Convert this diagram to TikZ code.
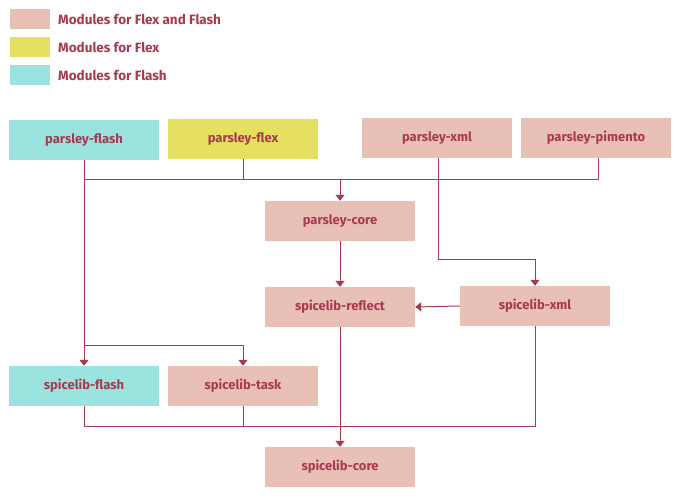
\documentclass[tikz,border=0pt]{standalone}
\usepackage{fontspec}
\setmainfont{Fira Sans}
\usetikzlibrary{arrows.meta}
\definecolor{pinkc}{HTML}{E9C0B6}
\definecolor{yellowc}{HTML}{E6E060}
\definecolor{cyanc}{HTML}{9AE3DE}
\definecolor{redc}{HTML}{A83A50}
\begin{document}
\begin{tikzpicture}[x=1pt,y=-1pt,
  mod/.style={minimum width=150pt,minimum height=40pt,inner sep=0pt,text=redc,font=\fontsize{13}{15}\selectfont\bfseries},
  both/.style={mod,fill=pinkc},
  flex/.style={mod,fill=yellowc},
  flash/.style={mod,fill=cyanc},
  legbox/.style={minimum width=40pt,minimum height=20pt,inner sep=0pt},
  legtext/.style={anchor=west,text=redc,inner sep=0pt,font=\fontsize{13.5}{15}\selectfont\bfseries},
  conn/.style={draw=redc,line width=1pt},
  arr/.style={conn,-{Triangle[width=9pt,length=6pt]}}]
\useasboundingbox (0,0) rectangle (680,500);
% legend
\node[legbox,fill=pinkc] (lb1) at (30,19) {};
\node[legbox,fill=yellowc] (lb2) at (30,47) {};
\node[legbox,fill=cyanc] (lb3) at (30,75) {};
\node[legtext] (lt1) at (58,19) {Modules for Flex and Flash};
\node[legtext] (lt2) at (58,47) {Modules for Flex};
\node[legtext] (lt3) at (58,75) {Modules for Flash};
% nodes
\node[flash] (pflash) at (84,140) {parsley-flash};
\node[flex] (pflex) at (243,139) {parsley-flex};
\node[both] (pxml) at (437,138) {parsley-xml};
\node[both] (ppim) at (596,138) {parsley-pimento};
\node[both] (pcore) at (340,221) {parsley-core};
\node[both] (sreflect) at (340,307) {spicelib-reflect};
\node[both] (sxml) at (535,306) {spicelib-xml};
\node[flash] (sflash) at (84,386) {spicelib-flash};
\node[both] (stask) at (243,386) {spicelib-task};
\node[both] (score) at (340,467) {spicelib-core};
% junction coordinates
\coordinate (j1) at (84,179);
\coordinate (j2) at (598,179);
\coordinate (j3) at (340,179);
\coordinate (j4) at (84,345);
\coordinate (j5) at (243,345);
\coordinate (j6) at (438,259);
\coordinate (j7) at (535,259);
\coordinate (j8) at (84,426);
\coordinate (j9) at (535,426);
% connectors
\draw[conn] (pflash.south) -- (j1) -- (j2) -- (ppim.south -| j2);
\draw[conn] (pflex.south) -- (pflex.south |- j1);
\draw[arr] (j3) -- (pcore.north);
\draw[arr] (j1) -- (sflash.north);
\draw[arr] (j4) -- (j5) -- (stask.north);
\draw[arr] (pxml.south -| j6) -- (j6) -- (j7) -- (sxml.north);
\draw[arr] (pcore.south) -- (sreflect.north);
\draw[arr] (sxml.west) -- (sreflect.east);
\draw[arr] (sreflect.south) -- (score.north);
\draw[conn] (sflash.south) -- (j8) -- (j9) -- (sxml.south);
\draw[conn] (stask.south) -- (stask.south |- j8);
\end{tikzpicture}
\end{document}
